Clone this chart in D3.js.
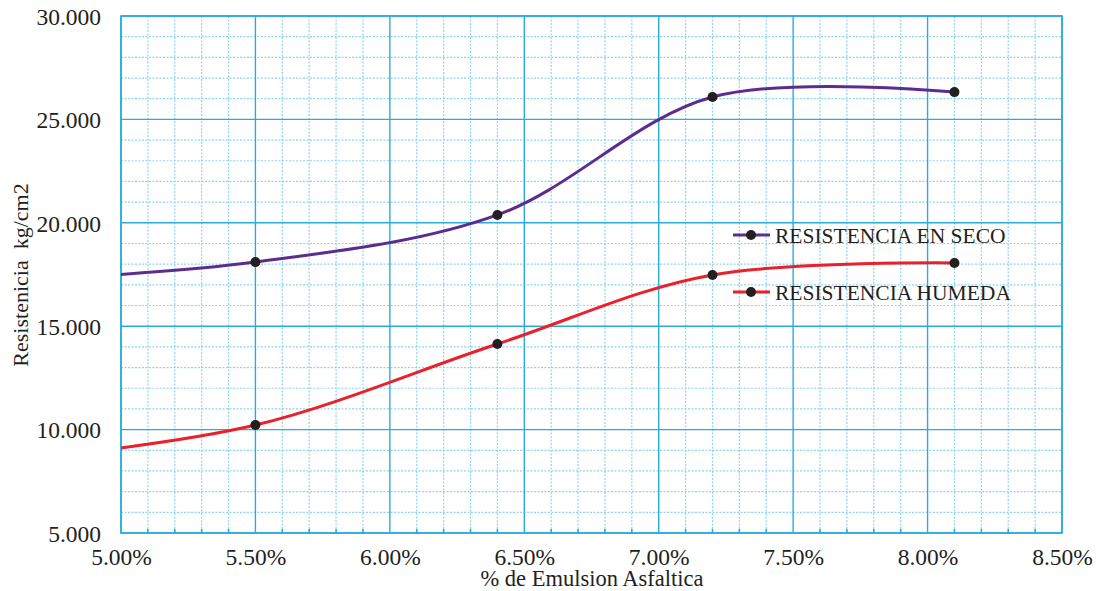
<!DOCTYPE html>
<html>
<head>
<meta charset="utf-8">
<script src="https://cdn.jsdelivr.net/npm/d3@7"></script>
<style>
  html, body { margin: 0; padding: 0; background: #fff; }
  svg { display: block; }
  text { font-family: "Liberation Serif", "Times New Roman", serif; fill: #231f20; }
</style>
</head>
<body>
<svg id="chart" width="1100" height="591"></svg>
<script>
// ---- data ----
// first point (4.6 %) lies left of the visible axis range; only its curve shows, clipped at 5.00 %
const emulsion = [4.6, 5.5, 6.4, 7.2, 8.1];
const markerShown = [false, true, true, true, true];
const resistenciaSeco = [17200, 18100, 20380, 26080, 26320];
const resistenciaHumeda = [8500, 10220, 14140, 17480, 18060];
const seriesNames = ["RESISTENCIA EN SECO", "RESISTENCIA HUMEDA"];
const seriesColors = ["#5c2d8c", "#e8212b"];
const xTicks = [5.0, 5.5, 6.0, 6.5, 7.0, 7.5, 8.0, 8.5];
const yTicks = [5000, 10000, 15000, 20000, 25000, 30000];
const titleText = "Resistencia vs % de Emulsion Asfaltica";
const xLabel = "% de Emulsion Asfaltica";
const yLabel = "Resistenicia  kg/cm2";

// ---- layout ----
const svg = d3.select("#chart");
const L = 121, R = 1062, T = 16, B = 533;
const x = d3.scaleLinear().domain([5.0, 8.5]).range([L, R]);
const y = d3.scaleLinear().domain([5000, 30000]).range([B, T]);

const gridMajor = "#29abe2";
const gridMinor = "#8ed3f2";

svg.append("defs").append("clipPath").attr("id", "plotClip")
  .append("rect").attr("x", L).attr("y", T).attr("width", R - L).attr("height", B - T);

// minor grid
const xMinor = d3.range(50, 86, 1).map(d => d / 10).filter(d => Math.round(d * 10) % 5 !== 0);
const yMinor = d3.range(5000, 30001, 1000).filter(d => d % 5000 !== 0);
const grid = svg.append("g");
grid.selectAll(".vmin").data(xMinor).join("line")
  .attr("x1", d => x(d)).attr("x2", d => x(d)).attr("y1", T).attr("y2", B)
  .attr("stroke", gridMinor).attr("stroke-width", 1.2).attr("stroke-dasharray", "2,1.5");
grid.selectAll(".hmin").data(yMinor).join("line")
  .attr("y1", d => y(d)).attr("y2", d => y(d)).attr("x1", L).attr("x2", R)
  .attr("stroke", gridMinor).attr("stroke-width", 1.2).attr("stroke-dasharray", "2,1.5");
// major grid
grid.selectAll(".vmaj").data(xTicks).join("line")
  .attr("x1", d => x(d)).attr("x2", d => x(d)).attr("y1", T).attr("y2", B)
  .attr("stroke", gridMajor).attr("stroke-width", 1.4);
grid.selectAll(".hmaj").data(yTicks).join("line")
  .attr("y1", d => y(d)).attr("y2", d => y(d)).attr("x1", L).attr("x2", R)
  .attr("stroke", gridMajor).attr("stroke-width", 1.4);
// minor tick marks on bottom axis
grid.selectAll(".tk").data(xMinor).join("line")
  .attr("x1", d => x(d)).attr("x2", d => x(d)).attr("y1", B - 4).attr("y2", B)
  .attr("stroke", gridMajor).attr("stroke-width", 1.6);
// frame
svg.append("rect").attr("x", L).attr("y", T).attr("width", R - L).attr("height", B - T)
  .attr("fill", "none").attr("stroke", gridMajor).attr("stroke-width", 1.6);

// axes labels via d3 axes
const fmtY = d => d3.format(",")(d).replace(/,/g, ".");
const xAxis = svg.append("g").attr("transform", `translate(0,${B})`)
  .call(d3.axisBottom(x).tickValues(xTicks).tickSize(0).tickPadding(0).tickFormat(d => d.toFixed(2) + "%"));
const yAxis = svg.append("g").attr("transform", `translate(${L},0)`)
  .call(d3.axisLeft(y).tickValues(yTicks).tickSize(0).tickPadding(20).tickFormat(fmtY));
[xAxis, yAxis].forEach(a => {
  a.select(".domain").remove();
  a.selectAll("text").attr("font-family", "Liberation Serif, serif").attr("font-size", 23.5).attr("fill", "#231f20");
});
xAxis.selectAll("text").attr("y", 32).attr("dy", 0);
yAxis.selectAll("text").attr("dy", "0.35em");

// title (cut off at the top)
svg.append("text").attr("x", 552).attr("y", 0).attr("text-anchor", "middle")
  .attr("font-size", 21).style("fill", "#777").text(titleText);

// axis titles
svg.append("text").attr("x", 592).attr("y", 586).attr("text-anchor", "middle")
  .attr("font-size", 22.5).text(xLabel);
svg.append("text").attr("transform", "translate(28,275) rotate(-90)").attr("text-anchor", "middle")
  .attr("font-size", 22).attr("xml:space", "preserve").style("white-space", "pre").text(yLabel);

// series
const series = [resistenciaSeco, resistenciaHumeda];
const line = d3.line().x(d => x(d[0])).y(d => y(d[1])).curve(d3.curveCardinal.tension(0));
const plot = svg.append("g");
series.forEach((vals, i) => {
  const pts = emulsion.map((e, j) => [e, vals[j], markerShown[j]]);
  plot.append("path").datum(pts).attr("d", line).attr("clip-path", "url(#plotClip)")
    .attr("fill", "none").attr("stroke", seriesColors[i]).attr("stroke-width", 3);
  plot.selectAll(null).data(pts.filter(p => p[2])).join("circle")
    .attr("cx", d => x(d[0])).attr("cy", d => y(d[1])).attr("r", 5)
    .attr("fill", "#231f20");
});

// legend
const legendY = [235, 292];
const lg = svg.append("g");
seriesNames.forEach((name, i) => {
  lg.append("line").attr("x1", 733).attr("x2", 770).attr("y1", legendY[i]).attr("y2", legendY[i])
    .attr("stroke", seriesColors[i]).attr("stroke-width", 3);
  lg.append("circle").attr("cx", 751).attr("cy", legendY[i]).attr("r", 5).attr("fill", "#231f20");
  lg.append("text").attr("x", 775).attr("y", legendY[i] + 7.5).attr("font-size", 21.5).text(name);
});
</script>
</body>
</html>
